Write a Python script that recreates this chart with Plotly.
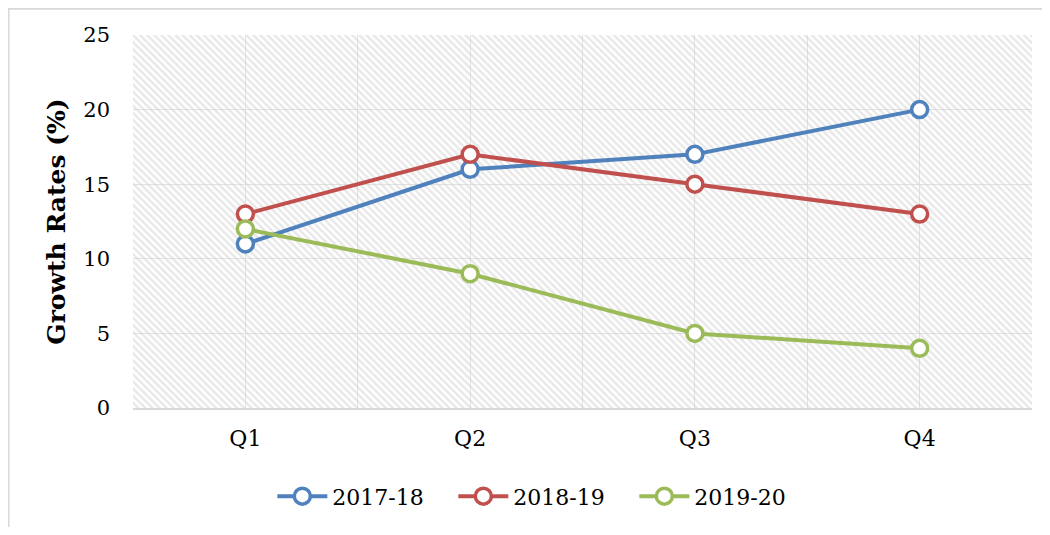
import plotly.graph_objects as go

quarters = ["Q1", "Q2", "Q3", "Q4"]
s2017 = [11, 16, 17, 20]
s2018 = [13, 17, 15, 13]
s2019 = [12, 9, 5, 4]
series_names = ["2017-18", "2018-19", "2019-20"]
colors = ["#4F81BD", "#C0504D", "#9BBB59"]

FONT = "DejaVu Serif"
# the page adds an 8px body margin, so the figure is laid out in page coords - 8
W, H = 1034, 519
L, R, T, B = 125, 10, 27, 116
pw, ph = W - L - R, H - T - B

fig = go.Figure()

# hatched plot-area background on the base axes
fig.add_trace(go.Bar(
    x=[0.5], y=[1], width=[1], base=0,
    marker=dict(color="rgba(0,0,0,0)", line=dict(width=0),
                pattern=dict(shape="\\", size=5, solidity=0.5,
                             fgcolor="#d2d2d2", bgcolor="rgba(0,0,0,0)")),
    hoverinfo="skip", showlegend=False, xaxis="x", yaxis="y",
))

for name, vals, col in zip(series_names, [s2017, s2018, s2019], colors):
    fig.add_trace(go.Scatter(
        x=quarters, y=vals, name=name, mode="lines+markers",
        line=dict(color=col, width=4),
        marker=dict(size=16, color="white", line=dict(color=col, width=3.5)),
        xaxis="x2", yaxis="y2",
    ))

fig.update_layout(
    width=W, height=H,
    margin=dict(l=L, r=R, t=T, b=B),
    paper_bgcolor="white", plot_bgcolor="white",
    font=dict(family=FONT, size=22, color="black"),
    xaxis=dict(range=[0, 1], dtick=0.125, tick0=0, showgrid=True,
               gridcolor="#e3e3e3", gridwidth=1, showticklabels=False,
               zeroline=False, showline=True, linecolor="#d9d9d9",
               linewidth=2, fixedrange=True),
    yaxis=dict(range=[0, 1], dtick=0.2, tick0=0, showgrid=True,
               gridcolor="#e3e3e3", gridwidth=1, showticklabels=False,
               zeroline=False, showline=False, fixedrange=True),
    xaxis2=dict(overlaying="x", range=[-0.5, 3.5], type="category",
                showgrid=False, zeroline=False, showline=False,
                tickfont=dict(family=FONT, size=22),
                ticklabelstandoff=15, anchor="y2", side="bottom"),
    yaxis2=dict(overlaying="y", range=[0, 25], dtick=5, side="left",
                showgrid=False, zeroline=False, showline=False,
                tickfont=dict(family=FONT, size=21),
                ticklabelstandoff=22, anchor="x2",
                title=dict(text="<b>Growth Rates (%)</b>",
                           font=dict(family=FONT, size=25), standoff=10)),
    legend=dict(orientation="h", x=0.457, xanchor="center",
                y=-0.237, yanchor="middle",
                font=dict(family=FONT, size=22), itemwidth=50,
                entrywidth=116, entrywidthmode="pixels"),
    showlegend=True,
)

fig.add_shape(type="rect", xref="paper", yref="paper",
              x0=(0.5 - L) / pw, x1=(W + 5 - L) / pw,
              y0=(T + ph - (H + 5)) / ph, y1=(T + ph - 0.5) / ph,
              line=dict(color="#d9d9d9", width=2), layer="below")

fig.write_html("out.html")
